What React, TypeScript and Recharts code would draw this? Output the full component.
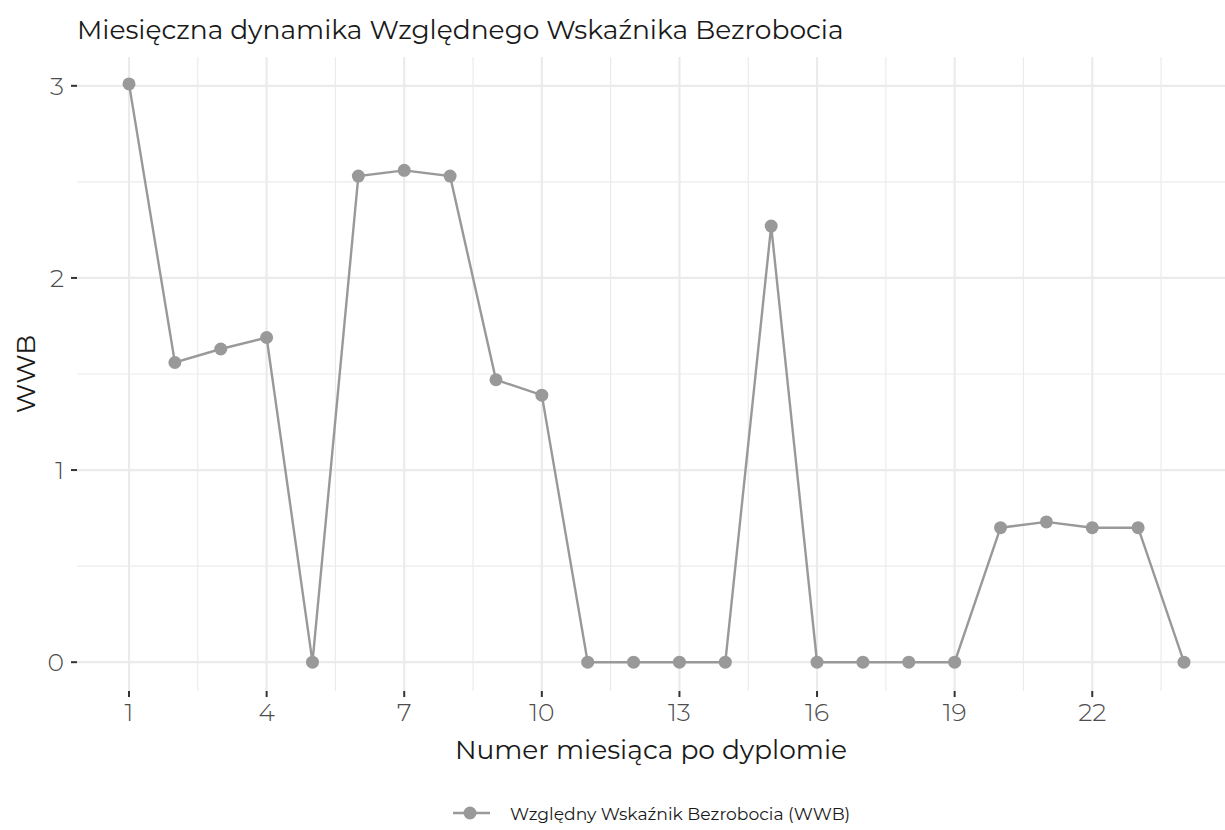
import {
  LineChart,
  Line,
  XAxis,
  YAxis,
  ReferenceLine,
} from 'recharts';

const months = [1, 2, 3, 4, 5, 6, 7, 8, 9, 10, 11, 12, 13, 14, 15, 16, 17, 18, 19, 20, 21, 22, 23, 24];
const wwbValues = [3.01, 1.56, 1.63, 1.69, 0, 2.53, 2.56, 2.53, 1.47, 1.39, 0, 0, 0, 0, 2.27, 0, 0, 0, 0, 0.7, 0.73, 0.7, 0.7, 0];
const xTicks = [1, 4, 7, 10, 13, 16, 19, 22];
const xMinorTicks = [2.5, 5.5, 8.5, 11.5, 14.5, 17.5, 20.5, 23.5];
const yTicks = [0, 1, 2, 3];
const yMinorTicks = [0.5, 1.5, 2.5];

const seriesName = 'Względny Wskaźnik Bezrobocia (WWB)';
const FONT = 'Montserrat, "DejaVu Sans", sans-serif';
const GRID = '#EBEBEB';
const LINE = '#999999';

const data = months.map((m, i) => ({ month: m, wwb: wwbValues[i] }));

export default function App() {
  return (
    <div style={{ position: 'absolute', left: 0, top: 0, width: 1225, height: 830, background: '#fff', fontFamily: FONT }}>
      <div style={{ position: 'absolute', left: 77, top: 13, fontSize: 26.5, lineHeight: 'normal', color: '#1a1a1a', whiteSpace: 'nowrap' }}>
        Miesięczna dynamika Względnego Wskaźnika Bezrobocia
      </div>
      <LineChart
        width={1225}
        height={830}
        data={data}
        margin={{ top: 57, right: 0, bottom: 79, left: 0 }}
      >
        {/* minor grid first, then major */}
        {xMinorTicks.map((v) => (
          <ReferenceLine key={'xm' + v} x={v} stroke={GRID} strokeWidth={1.2} />
        ))}
        {yMinorTicks.map((v) => (
          <ReferenceLine key={'ym' + v} y={v} stroke={GRID} strokeWidth={1.2} />
        ))}
        {xTicks.map((v) => (
          <ReferenceLine key={'x' + v} x={v} stroke={GRID} strokeWidth={2.2} />
        ))}
        {yTicks.map((v) => (
          <ReferenceLine key={'y' + v} y={v} stroke={GRID} strokeWidth={2.2} />
        ))}
        <XAxis
          type="number"
          dataKey="month"
          domain={[-0.134, 24.894]}
          ticks={xTicks}
          allowDataOverflow
          axisLine={false}
          tickLine={{ stroke: '#333333', strokeWidth: 2 }}
          tickSize={6}
          tickMargin={6}
          tick={{ fill: '#4D4D4D', fontSize: 25, fontWeight: 300, fontFamily: FONT }}
          height={60}
          label={(props: any) => {
            const vb = props.viewBox;
            return (
              <text
                x={vb.x + vb.width / 2}
                y={vb.y + 58}
                textAnchor="middle"
                dominantBaseline="central"
                fontSize={26.5}
                fill="#1a1a1a"
                fontFamily={FONT}
              >
                Numer miesiąca po dyplomie
              </text>
            );
          }}
        />
        <YAxis
          type="number"
          domain={[-0.15, 3.15]}
          ticks={yTicks}
          allowDataOverflow
          width={77}
          axisLine={false}
          tickLine={{ stroke: '#333333', strokeWidth: 2 }}
          tickSize={6}
          tickMargin={7}
          tick={{ fill: '#4D4D4D', fontSize: 25, fontWeight: 300, fontFamily: FONT }}
          label={(props: any) => {
            const vb = props.viewBox;
            const cx = 25;
            const cy = vb.y + vb.height / 2;
            return (
              <text
                x={cx}
                y={cy}
                transform={`rotate(-90, ${cx}, ${cy})`}
                textAnchor="middle"
                dominantBaseline="central"
                fontSize={26.5}
                fill="#1a1a1a"
                fontFamily={FONT}
              >
                WWB
              </text>
            );
          }}
        />
        <Line
          type="linear"
          dataKey="wwb"
          name={seriesName}
          stroke={LINE}
          strokeWidth={2.4}
          dot={{ r: 6.5, fill: LINE, stroke: 'none' }}
          activeDot={false}
          isAnimationActive={false}
        />
      </LineChart>
      <div style={{ position: 'absolute', left: 450, top: 801, display: 'flex', alignItems: 'center', fontSize: 17.2, color: '#1a1a1a', whiteSpace: 'nowrap' }}>
        <svg width={42} height={24} style={{ marginRight: 18 }}>
          <line x1={3} y1={12} x2={40} y2={12} stroke={LINE} strokeWidth={2.4} />
          <circle cx={20} cy={12} r={6.5} fill={LINE} />
        </svg>
        {seriesName}
      </div>
    </div>
  );
}
